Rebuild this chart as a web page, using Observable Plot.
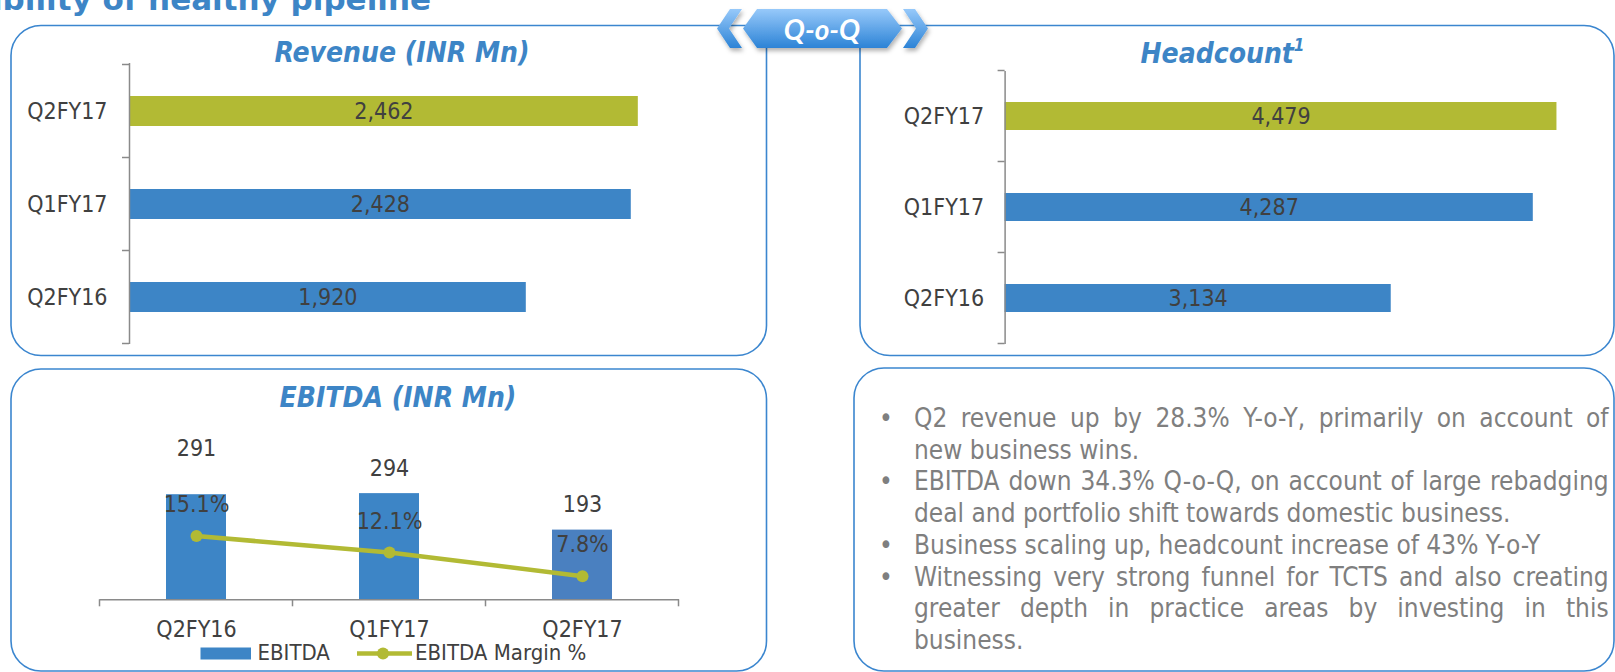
<!DOCTYPE html>
<html>
<head>
<meta charset="utf-8">
<script src="https://cdn.jsdelivr.net/npm/d3@7"></script>
<script src="https://cdn.jsdelivr.net/npm/@observablehq/plot@0.6"></script>
<style>
  html, body { margin: 0; padding: 0; background: #fff; }
  #root { position: relative; width: 1615px; height: 672px; overflow: hidden; background: #fff;
    font-family: 'DejaVu Sans Condensed', 'DejaVu Sans', sans-serif; font-stretch: condensed; }
  #root svg { font-stretch: condensed; }
  .layer { position: absolute; left: 0; top: 0; }
  #bullets { position: absolute; left: 879px; top: 403px; width: 730px; color: #7f7f7f;
    font-family: 'DejaVu Sans Condensed', 'DejaVu Sans', sans-serif; font-stretch: condensed;
    font-size: 26px; line-height: 31.7px; }
  #bullets .item { position: relative; padding-left: 35px; width: 694.6px; }
  #bullets .dot { position: absolute; left: 0; top: 0; }
  #bullets .ln { white-space: nowrap; }
  #bullets .full { text-align: justify; text-align-last: justify; white-space: normal; }
</style>
</head>
<body>
<div id="root"></div>
<script>
// ---------------- data ----------------
const periods = ["Q2FY16", "Q1FY17", "Q2FY17"];
const revenue = [1920, 2428, 2462];
const headcount = [3134, 4287, 4479];
const ebitda = [291, 294, 193];
const ebitdaMargin = [15.1, 12.1, 7.8];
const pageTitle = "Visibility of healthy pipeline";
const badgeText = "Q-o-Q";
const revenueTitle = "Revenue (INR Mn)";
const headcountTitle = "Headcount";
const headcountNote = "1";
const ebitdaTitle = "EBITDA (INR Mn)";
const legendLabels = ["EBITDA", "EBITDA Margin %"];
const bullets = [
  ["Q2 revenue up by 28.3% Y-o-Y, primarily on account of", "new business wins."],
  ["EBITDA down 34.3% Q-o-Q, on account of large rebadging", "deal and portfolio shift towards domestic business."],
  ["Business scaling up, headcount increase of 43% Y-o-Y"],
  ["Witnessing very strong funnel for TCTS and also creating", "greater depth in practice areas by investing in this", "business."]
];

// ---------------- styles ----------------
const W = 1615, H = 672;
const BLUE = "#3d85c6", BLUE2 = "#4a80c0", GREEN = "#b2ba34";
const AXIS = "#8a8a8a", TXT = "#404040", TITLE = "#3d85c6", BORDER = "#3b86cf";
const FONT = "'DejaVu Sans Condensed', 'DejaVu Sans', sans-serif";
const fmt = d3.format(",");
const root = document.getElementById("root");

const revData = periods.map((p, i) => ({period: p, value: revenue[i]}));
const hcData = periods.map((p, i) => ({period: p, value: headcount[i]}));
const ebData = periods.map((p, i) => ({period: p, ebitda: ebitda[i], margin: ebitdaMargin[i]}));

// ---------------- decorations ----------------
const deco = d3.create("svg").attr("class", "layer").attr("width", W).attr("height", H)
  .attr("font-family", FONT);
const defs = deco.append("defs");
const grad = defs.append("linearGradient").attr("id", "bg").attr("x1", 0).attr("x2", 0).attr("y1", 0).attr("y2", 1);
grad.append("stop").attr("offset", "0%").attr("stop-color", "#97c9fa");
grad.append("stop").attr("offset", "100%").attr("stop-color", "#2c83d6");
const sh = defs.append("filter").attr("id", "sh").attr("x", "-20%").attr("y", "-30%").attr("width", "140%").attr("height", "170%");
sh.append("feDropShadow").attr("dx", 1.5).attr("dy", 3).attr("stdDeviation", 2).attr("flood-color", "#000").attr("flood-opacity", 0.3);

function panelPath(x, y, w, h, r, c) {
  const [tl, tr, br, bl] = c;
  const p = d3.path();
  p.moveTo(x + (tl ? r : 0), y);
  p.lineTo(x + w - (tr ? r : 0), y);
  if (tr) p.arcTo(x + w, y, x + w, y + r, r);
  p.lineTo(x + w, y + h - (br ? r : 0));
  if (br) p.arcTo(x + w, y + h, x + w - r, y + h, r);
  p.lineTo(x + (bl ? r : 0), y + h);
  if (bl) p.arcTo(x, y + h, x, y + h - r, r);
  p.lineTo(x, y + (tl ? r : 0));
  if (tl) p.arcTo(x, y, x + r, y, r);
  p.closePath();
  return p.toString();
}
const panels = [
  [11, 25.5, 755.5, 330, [1, 0, 1, 1]],
  [860, 25.5, 754, 330, [0, 1, 1, 1]],
  [11, 369, 755.5, 302, [1, 1, 1, 1]],
  [854, 368, 760, 303, [1, 1, 1, 1]]
];
panels.forEach(([x, y, w, h, c]) => deco.append("path").attr("d", panelPath(x, y, w, h, 30, c))
  .attr("fill", "none").attr("stroke", BORDER).attr("stroke-width", 1.6));

// page title (cut at top-left)
deco.append("text").attr("x", 431).attr("y", 9.5).attr("text-anchor", "end")
  .attr("font-family", "'DejaVu Sans', sans-serif").attr("font-weight", "bold").attr("font-size", 31)
  .attr("fill", TITLE).style("font-stretch", "normal").text(pageTitle);

// badge
const badge = deco.append("g").attr("filter", "url(#sh)");
badge.append("polygon").attr("points", "717,28.5 730,9 742,9 729,28.5 742,48 730,48").attr("fill", "url(#bg)");
badge.append("polygon").attr("points", "928,28.5 915,9 903,9 916,28.5 903,48 915,48").attr("fill", "url(#bg)");
badge.append("polygon").attr("points", "743,28.5 757,9 887,9 902,28.5 887,48 757,48").attr("fill", "url(#bg)");
deco.append("text").attr("x", 822).attr("y", 40).attr("text-anchor", "middle")
  .attr("font-family", "Lato, 'Open Sans', sans-serif").attr("font-weight", "bold").attr("font-style", "italic")
  .attr("font-size", 28).attr("fill", "#fff").style("font-stretch", "normal").text(badgeText);

// chart titles
function title(x, y, t, anchor) {
  return deco.append("text").attr("x", x).attr("y", y).attr("text-anchor", anchor || "middle")
    .attr("font-weight", "bold").attr("font-style", "italic").attr("font-size", 28).attr("fill", TITLE).text(t);
}
title(402, 62, revenueTitle);
const ht = title(1140.5, 63, headcountTitle, "start");
ht.append("tspan").attr("font-size", 17).attr("dy", -12).text(headcountNote);
title(398, 406.7, ebitdaTitle);

// legend
const lg = deco.append("g").attr("font-size", 22).attr("fill", TXT);
lg.append("rect").attr("x", 200.5).attr("y", 647.5).attr("width", 50.5).attr("height", 12).attr("fill", BLUE);
lg.append("text").attr("x", 257.5).attr("y", 660).text(legendLabels[0]);
lg.append("line").attr("x1", 357).attr("x2", 412).attr("y1", 653.5).attr("y2", 653.5).attr("stroke", GREEN).attr("stroke-width", 4.5);
lg.append("circle").attr("cx", 383).attr("cy", 653.5).attr("r", 6).attr("fill", GREEN);
lg.append("text").attr("x", 415).attr("y", 660).text(legendLabels[1]);
root.append(deco.node());

// ---------------- helpers ----------------
function bandEdgeTicks(dim, domain, len) {
  return (index, scales) => {
    const s = scales[dim];
    const step = s.step ? s.step() : 0;
    const bw = s.bandwidth ? s.bandwidth() : 0;
    const off = (step - bw) / 2;
    const edges = domain.map(d => s(d) - off);
    edges.push(edges[edges.length - 1] + step);
    const g = d3.create("svg:g").attr("stroke", AXIS).attr("stroke-width", 1.5);
    if (dim === "y") {
      const x0 = scales.x(0);
      edges.forEach(e => g.append("line").attr("x1", x0 - len).attr("x2", x0).attr("y1", e).attr("y2", e));
    } else {
      const y0 = scales.y(0);
      edges.forEach(e => g.append("line").attr("x1", e).attr("x2", e).attr("y1", y0).attr("y2", y0 + len));
    }
    return g.node();
  };
}
function addPlot(opts) {
  const svg = Plot.plot(Object.assign({
    width: W, height: H,
    style: {background: "transparent", overflow: "visible", fontFamily: FONT, fontSize: "23px"},
    color: {type: "identity"}
  }, opts));
  svg.classList.add("layer");
  svg.style.maxWidth = "none";
  root.append(svg);
}
const highlight = d => d.period === "Q2FY17" ? GREEN : BLUE;

// ---------------- revenue ----------------
const yDomainH = [...periods].reverse();
addPlot({
  marginLeft: 129, marginRight: W - 749, marginTop: 63, marginBottom: H - 344,
  x: {domain: [0, 3000], axis: null},
  y: {domain: yDomainH, paddingInner: 0.68, paddingOuter: 0.34},
  marks: [
    Plot.barX(revData, {x: "value", y: "period", fill: highlight}),
    Plot.ruleX([0], {stroke: AXIS, strokeWidth: 1.5}),
    bandEdgeTicks("y", yDomainH, 7),
    Plot.axisY({tickSize: 0, tickPadding: 22, fontSize: 23, fill: TXT, label: null}),
    Plot.text(revData, {x: d => d.value / 2, y: "period", text: d => fmt(d.value), fill: TXT, fontSize: 23})
  ]
});

// ---------------- headcount ----------------
addPlot({
  marginLeft: 1004.6, marginRight: W - 1596, marginTop: 71, marginBottom: H - 344,
  x: {domain: [0, 4800], axis: null},
  y: {domain: yDomainH, paddingInner: 0.69, paddingOuter: 0.345},
  marks: [
    Plot.barX(hcData, {x: "value", y: "period", fill: highlight}),
    Plot.ruleX([0], {stroke: AXIS, strokeWidth: 1.5}),
    bandEdgeTicks("y", yDomainH, 7),
    Plot.axisY({tickSize: 0, tickPadding: 21, fontSize: 23, fill: TXT, label: null}),
    Plot.text(hcData, {x: d => d.value / 2, y: "period", text: d => fmt(d.value), fill: TXT, fontSize: 23})
  ]
});

// ---------------- EBITDA ----------------
const marginToY = d3.scaleLinear().domain([3.5, 26.5]).range([0, 350]); // secondary axis
addPlot({
  marginLeft: 99.5, marginRight: W - 679, marginTop: 472.9, marginBottom: H - 599.3,
  x: {domain: periods, paddingInner: 0.69, paddingOuter: 0.345},
  y: {domain: [0, 350], axis: null},
  marks: [
    Plot.barY(ebData, {x: "period", y: "ebitda", fill: d => d.period === "Q2FY17" ? BLUE2 : BLUE}),
    Plot.ruleY([0], {stroke: AXIS, strokeWidth: 1.5}),
    bandEdgeTicks("x", periods, 7),
    Plot.axisX({tickSize: 0, tickPadding: 21, fontSize: 23, fill: TXT, label: null}),
    Plot.line(ebData, {x: "period", y: d => marginToY(d.margin), stroke: GREEN, strokeWidth: 4.5}),
    Plot.dot(ebData, {x: "period", y: d => marginToY(d.margin), r: 6, fill: GREEN}),
    Plot.text(ebData, {filter: (d, i) => i === 0, x: "period", y: "ebitda", text: d => String(d.ebitda), fill: TXT, fontSize: 23, dy: -46.4}),
    Plot.text(ebData, {filter: (d, i) => i > 0, x: "period", y: "ebitda", text: d => String(d.ebitda), fill: TXT, fontSize: 23, dy: -25}),
    Plot.text(ebData, {x: "period", y: d => marginToY(d.margin), text: d => d.margin.toFixed(1) + "%", fill: TXT, fontSize: 23, dy: -31.4})
  ]
});

// ---------------- bullet text ----------------
const bl = document.createElement("div");
bl.id = "bullets";
bullets.forEach(lines => {
  const item = document.createElement("div");
  item.className = "item";
  const dot = document.createElement("span");
  dot.className = "dot"; dot.textContent = "•";
  item.append(dot);
  lines.forEach((t, i) => {
    const ln = document.createElement("div");
    ln.className = "ln" + (i < lines.length - 1 ? " full" : "");
    ln.textContent = t;
    item.append(ln);
  });
  bl.append(item);
});
root.append(bl);
</script>
</body>
</html>
